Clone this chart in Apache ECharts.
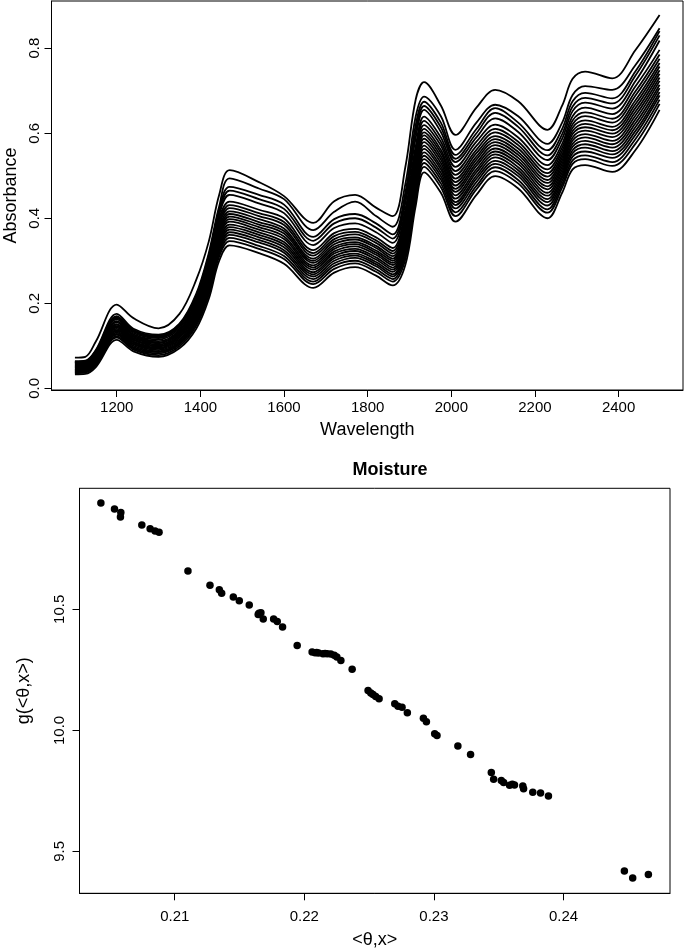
<!DOCTYPE html>
<html><head><meta charset="utf-8">
<script src="https://cdn.jsdelivr.net/npm/echarts@6/dist/echarts.min.js"></script>
<style>html,body{margin:0;padding:0;background:#fff}#c{width:685px;height:950px}</style>
</head><body><div id="c"></div>
<script>
// ---- Top panel: NIR spectra (values read at knot wavelengths) ----
const wavelengths = [1100,1125,1150,1200,1240,1300,1350,1390,1420,1445,1470,1540,1600,1670,1720,1770,1820,1860,1890,1915,1935,1975,2010,2060,2105,2160,2230,2265,2290,2320,2385,2440,2498];
const specTop = [.072,.074,.110,.197,.165,.141,.175,.255,.345,.455,.513,.485,.452,.389,.440,.455,.425,.405,.520,.680,.720,.665,.596,.660,.702,.675,.608,.665,.728,.745,.729,.795,.878];
const specSecond = [.064,.065,.090,.175,.140,.126,.152,.222,.318,.428,.494,.470,.445,.372,.415,.439,.405,.380,.480,.640,.686,.640,.561,.625,.667,.640,.575,.625,.690,.711,.702,.760,.847];
const specU1 = [.062,.063,.088,.170,.137,.123,.150,.218,.312,.420,.474,.455,.432,.356,.398,.410,.388,.362,.460,.620,.674,.625,.549,.610,.659,.625,.560,.610,.675,.695,.682,.745,.840];
const specU2 = [.061,.062,.087,.167,.135,.122,.148,.215,.308,.414,.465,.445,.422,.347,.388,.400,.378,.352,.448,.605,.664,.614,.540,.600,.648,.615,.548,.598,.663,.683,.670,.735,.830];
const specU3 = [.061,.062,.086,.165,.133,.120,.147,.213,.304,.408,.455,.435,.412,.337,.377,.388,.367,.342,.435,.590,.655,.603,.532,.590,.635,.603,.537,.587,.652,.672,.658,.722,.818];
const specB0 = [.060,.061,.085,.162,.130,.118,.145,.210,.300,.400,.439,.420,.400,.325,.365,.375,.355,.330,.420,.570,.639,.590,.521,.580,.620,.590,.525,.575,.640,.660,.645,.710,.796];
const specB1 = [.058,.059,.082,.158,.127,.115,.141,.204,.293,.392,.431,.412,.391,.318,.358,.368,.348,.323,.410,.559,.629,.580,.511,.570,.610,.580,.515,.566,.630,.649,.634,.698,.785];
const specB2 = [.056,.057,.080,.155,.124,.111,.137,.200,.287,.385,.424,.405,.384,.312,.351,.362,.342,.317,.401,.549,.619,.571,.502,.561,.602,.572,.506,.558,.621,.640,.625,.688,.775];
const specB3 = [.054,.055,.077,.151,.121,.108,.134,.195,.280,.378,.416,.398,.376,.305,.345,.355,.335,.311,.391,.539,.610,.561,.493,.553,.593,.564,.498,.550,.613,.630,.615,.677,.765];
const specB4 = [.052,.053,.075,.149,.118,.106,.131,.190,.275,.372,.410,.391,.370,.300,.339,.350,.330,.305,.384,.531,.602,.554,.485,.545,.586,.556,.490,.543,.605,.622,.607,.668,.757];
const specB5 = [.051,.052,.073,.146,.115,.103,.128,.186,.269,.366,.404,.385,.364,.295,.333,.344,.324,.300,.376,.522,.595,.546,.477,.538,.579,.549,.483,.536,.598,.614,.599,.659,.748];
const specB6 = [.049,.050,.071,.143,.113,.100,.125,.182,.264,.360,.398,.379,.357,.289,.328,.339,.319,.295,.368,.514,.587,.538,.469,.530,.572,.542,.475,.529,.590,.606,.591,.650,.740];
const specB7 = [.048,.049,.069,.140,.110,.098,.122,.178,.259,.354,.392,.373,.351,.284,.322,.334,.314,.290,.360,.506,.579,.530,.462,.523,.564,.535,.468,.522,.583,.598,.582,.641,.731];
const specB8 = [.046,.047,.067,.137,.108,.095,.119,.174,.253,.348,.385,.367,.344,.279,.317,.328,.308,.284,.352,.497,.571,.522,.454,.515,.557,.528,.460,.515,.575,.590,.574,.632,.723];
const specB9 = [.044,.045,.065,.134,.105,.093,.115,.169,.248,.342,.379,.361,.338,.273,.311,.323,.303,.279,.345,.489,.563,.515,.446,.508,.550,.520,.453,.508,.568,.582,.566,.623,.714];
const specB10 = [.043,.044,.063,.131,.103,.090,.112,.165,.242,.336,.373,.355,.332,.268,.306,.317,.297,.274,.337,.480,.555,.507,.438,.500,.543,.513,.445,.501,.560,.574,.558,.614,.706];
const specB11 = [.041,.042,.061,.128,.100,.087,.109,.161,.237,.330,.367,.349,.325,.263,.300,.312,.292,.268,.329,.472,.547,.499,.431,.493,.535,.506,.438,.495,.553,.566,.550,.605,.697];
const specB12 = [.039,.040,.058,.126,.097,.085,.106,.157,.232,.324,.361,.343,.319,.257,.294,.307,.287,.263,.321,.464,.539,.491,.423,.485,.528,.499,.430,.488,.545,.557,.542,.596,.689];
const specB13 = [.038,.039,.056,.122,.094,.082,.103,.152,.225,.317,.354,.335,.311,.251,.288,.300,.280,.257,.312,.454,.530,.482,.414,.476,.520,.490,.421,.480,.536,.548,.532,.586,.679];
const specB14 = [.036,.037,.054,.119,.091,.078,.099,.147,.219,.310,.346,.328,.304,.245,.281,.294,.274,.251,.303,.444,.521,.473,.405,.468,.511,.482,.413,.472,.528,.539,.523,.575,.669];
const specBottom = [.033,.034,.050,.114,.087,.074,.094,.140,.210,.300,.336,.318,.293,.236,.272,.285,.265,.242,.290,.430,.508,.460,.392,.455,.499,.470,.400,.460,.515,.525,.509,.560,.655];
const spectra = [specTop,specSecond,specU1,specU2,specU3,specB0,specB1,specB2,specB3,specB4,specB5,specB6,specB7,specB8,specB9,specB10,specB11,specB12,specB13,specB14,specBottom];
const wlTicks = [1200,1400,1600,1800,2000,2200,2400];
const absTicks = [0,0.2,0.4,0.6,0.8];

// ---- Bottom panel: Moisture scatter ----
const thetaX = [0.20430,0.20535,0.20584,0.20581,0.20746,0.20810,0.20848,0.20879,0.21102,0.21272,0.21344,0.21362,0.21452,0.21498,0.21575,0.21644,0.21665,0.21650,0.21683,0.21763,0.21791,0.21832,0.21945,0.22060,0.22083,0.22095,0.22110,0.22144,0.22160,0.22177,0.22204,0.22231,0.22251,0.22282,0.22369,0.22492,0.22513,0.22530,0.22551,0.22577,0.22698,0.22723,0.22754,0.22795,0.22919,0.22942,0.23006,0.23024,0.23185,0.23283,0.23443,0.23461,0.23520,0.23538,0.23584,0.23605,0.23622,0.23686,0.23692,0.23763,0.23823,0.23884,0.24470,0.24534,0.24655];
const gTheta = [10.939,10.914,10.900,10.881,10.848,10.833,10.824,10.818,10.658,10.600,10.581,10.566,10.551,10.536,10.518,10.479,10.486,10.484,10.460,10.460,10.450,10.427,10.351,10.324,10.321,10.322,10.320,10.317,10.318,10.317,10.315,10.310,10.303,10.289,10.253,10.165,10.154,10.148,10.140,10.131,10.110,10.100,10.096,10.073,10.050,10.036,9.986,9.979,9.935,9.900,9.826,9.798,9.793,9.785,9.773,9.777,9.774,9.770,9.759,9.744,9.741,9.729,9.419,9.390,9.405];
const thetaTicks = [0.21,0.22,0.23,0.24];
const gTicks = [9.5,10.0,10.5];

const FONT = 'Liberation Sans, Arial, sans-serif';
const chart = echarts.init(document.getElementById('c'), null, {renderer:'canvas'});

function axisBase(extra){
  return Object.assign({
    type:'value',
    splitLine:{show:false},
    axisLine:{show:true,onZero:false,lineStyle:{color:'#000',width:1}},
    nameLocation:'middle',
    nameTextStyle:{fontSize:18,color:'#000',fontFamily:FONT}
  }, extra);
}

const lineSeries = spectra.map((vals,i)=>({
  type:'line', xAxisIndex:0, yAxisIndex:0,
  data: wavelengths.map((w,j)=>[w, vals[j]]),
  showSymbol:false, symbol:'none', smooth:0.35,
  lineStyle:{color:'#000', width:1.8},
  silent:true, z:2
}));

const option = {
  animation:false,
  backgroundColor:'#fff',
  textStyle:{fontFamily:FONT},
  title:{text:'Moisture', left:390, top:461, textAlign:'center', padding:0,
    textStyle:{fontSize:18, fontWeight:'bold', color:'#000', fontFamily:FONT}},
  grid:[
    {left:51.5, top:1, width:631.5, height:389, show:true, borderColor:'#000', borderWidth:1, backgroundColor:'transparent', outerBoundsMode:'none', containLabel:false},
    {left:79.5, top:488.3, width:590.5, height:405, show:true, borderColor:'#000', borderWidth:1, backgroundColor:'transparent', outerBoundsMode:'none', containLabel:false}
  ],
  xAxis:[
    axisBase({gridIndex:0, min:1044, max:2554, name:'Wavelength', nameGap:31,
      axisTick:{show:true, length:7, customValues:wlTicks, lineStyle:{color:'#000'}},
      axisLabel:{customValues:wlTicks, fontSize:15, color:'#000', margin:10, fontFamily:FONT,
        formatter:v=>String(v)}}),
    axisBase({gridIndex:1, min:0.20265, max:0.24822, name:'<θ,x>', nameGap:38,
      axisTick:{show:true, length:7, customValues:thetaTicks, lineStyle:{color:'#000'}},
      axisLabel:{customValues:thetaTicks, fontSize:15, color:'#000', margin:16, fontFamily:FONT,
        formatter:v=>v.toFixed(2)}})
  ],
  yAxis:[
    axisBase({gridIndex:0, min:-0.004, max:0.911, name:'Absorbance', nameGap:31,
      axisTick:{show:true, length:7, customValues:absTicks, lineStyle:{color:'#000'}},
      axisLabel:{customValues:absTicks, fontSize:15, color:'#000', margin:9, rotate:90, fontFamily:FONT,
        formatter:v=>v.toFixed(1)}}),
    axisBase({gridIndex:1, min:9.327, max:11.0, name:'g(<θ,x>)', nameGap:46,
      axisTick:{show:true, length:7, customValues:gTicks, lineStyle:{color:'#000'}},
      axisLabel:{customValues:gTicks, fontSize:15, color:'#000', margin:12, rotate:90, fontFamily:FONT,
        formatter:v=>v.toFixed(1)}})
  ],
  series: lineSeries.concat([{
    type:'scatter', xAxisIndex:1, yAxisIndex:1,
    data: thetaX.map((x,i)=>[x, gTheta[i]]),
    symbol:'circle', symbolSize:7.5,
    itemStyle:{color:'#000', opacity:1}, silent:true
  }])
};
chart.setOption(option);
</script>
</body></html>
